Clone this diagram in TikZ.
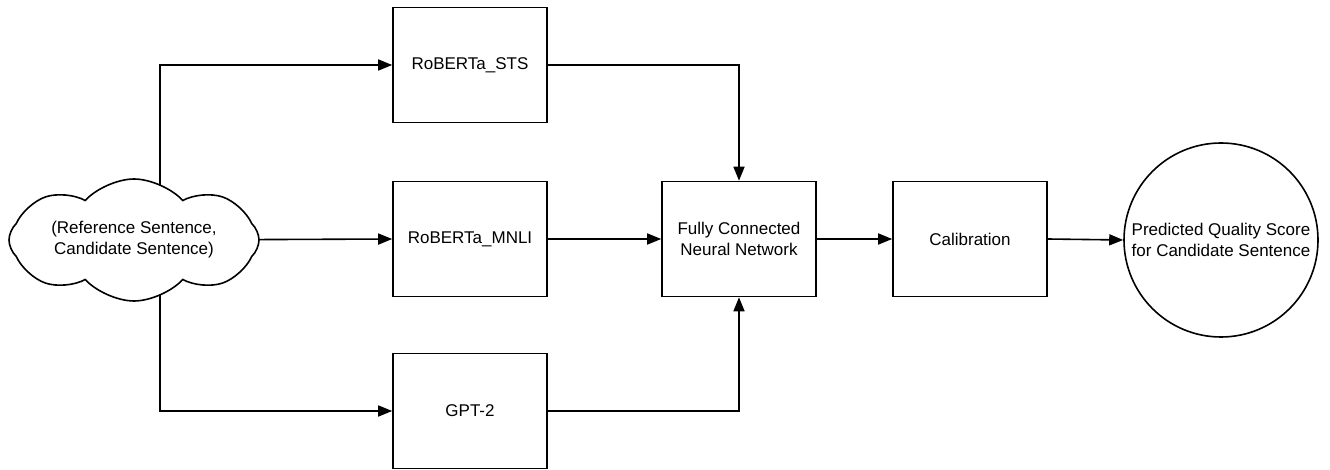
\documentclass[tikz,border=0pt]{standalone}
\usepackage{fontspec}
\setmainfont{Liberation Sans}
\usetikzlibrary{shapes.symbols,arrows.meta,backgrounds}
\begin{document}
\begin{tikzpicture}[x=1pt,y=-1pt,
  every node/.style={font=\fontsize{17}{21}\selectfont, align=center},
  blk/.style={draw, line width=1.6pt, minimum width=154pt, minimum height=115pt, inner sep=0pt},
  arr/.style={line width=1.6pt, -{Triangle[length=14pt,width=11pt]}},
  ln/.style={line width=1.6pt}]
\useasboundingbox (0,0) rectangle (1330,470);
\node[draw, fill=white, line width=1.6pt, cloud, cloud puffs=8, cloud puff arc=95, cloud ignores aspect, minimum width=250pt, minimum height=122pt, inner sep=0pt] (cloud) at (134,240) {(Reference Sentence,\\Candidate Sentence)};
\node[blk] (sts) at (470,65) {RoBERTa\_STS};
\node[blk] (mnli) at (470,239) {RoBERTa\_MNLI};
\node[blk] (gpt) at (470,411) {GPT-2};
\node[blk] (fcnn) at (739,239) {Fully Connected\\Neural Network};
\node[blk] (cal) at (970,239) {Calibration};
\node[draw, circle, line width=1.6pt, minimum size=194pt, inner sep=0pt] (out) at (1221,240) {Predicted Quality Score\\for Candidate Sentence};
\begin{scope}[on background layer]
\coordinate (cu) at (160,240);
\draw[arr] (cu) |- (sts.west);
\draw[arr] (cu) |- (gpt.west);
\draw[arr] (cu) -- (mnli.west);
\draw[arr] (sts.east) -| (fcnn.north);
\draw[arr] (gpt.east) -| (fcnn.south);
\end{scope}
\draw[arr] (mnli.east) -- (fcnn.west);
\draw[arr] (fcnn.east) -- (cal.west);
\draw[arr] (cal.east) -- (out.west);
\end{tikzpicture}
\end{document}
